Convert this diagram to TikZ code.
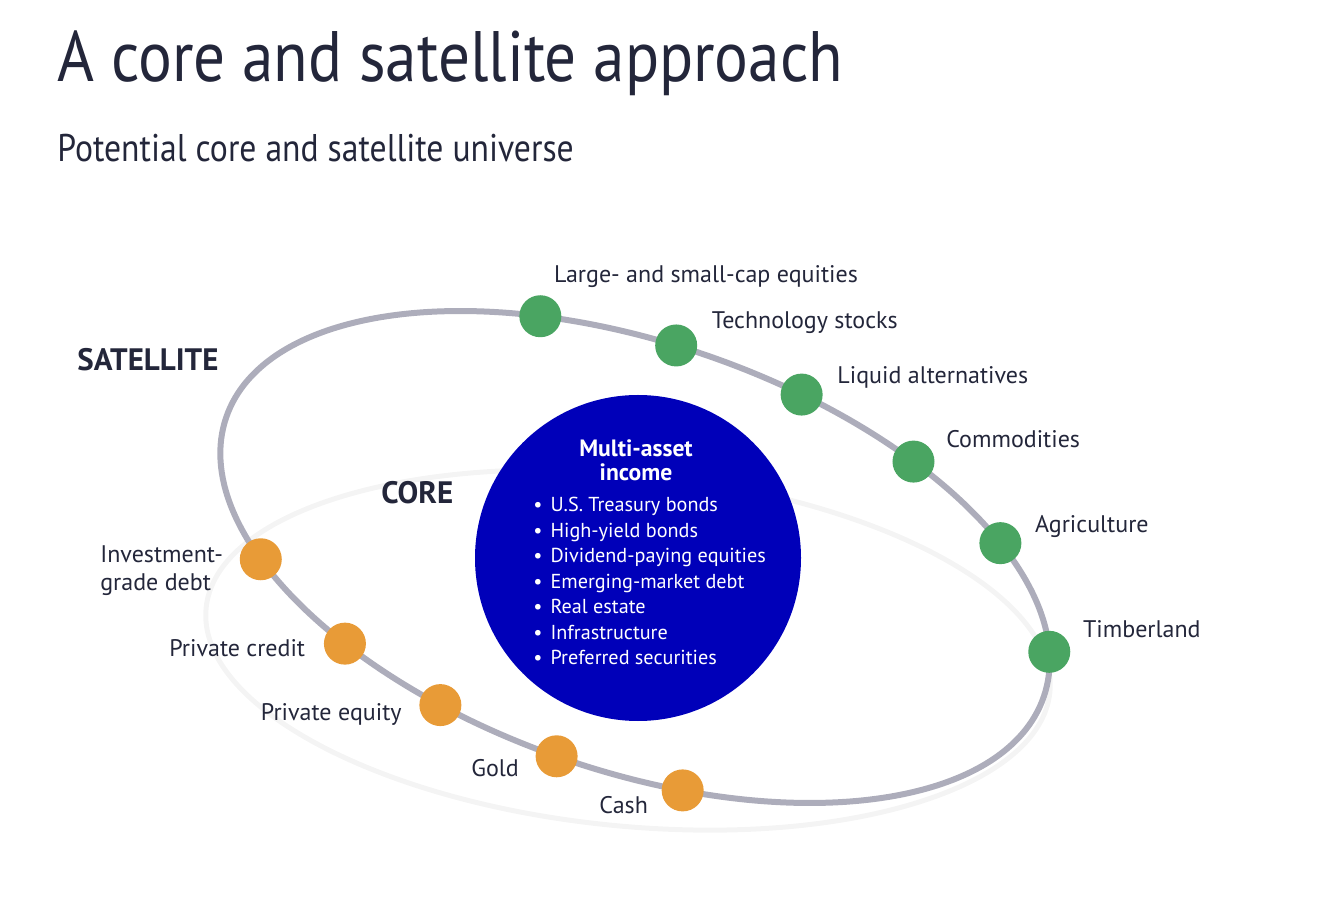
\documentclass[tikz,border=0pt]{standalone}
\usepackage{fontspec}
\setmainfont{PT Sans}
\usepackage{tikz}
\usetikzlibrary{positioning, calc}
\definecolor{navy}{RGB}{35,38,58}
\definecolor{orbitgray}{RGB}{173,173,187}
\definecolor{coregray}{RGB}{244,244,244}
\definecolor{hubblue}{RGB}{0,0,185}
\definecolor{satgreen}{RGB}{74,165,98}
\definecolor{coreorange}{RGB}{232,155,55}
\tikzset{
  planet/.style={circle, inner sep=0pt, minimum size=21pt},
  satplanet/.style={planet, fill=satgreen},
  coreplanet/.style={planet, fill=coreorange},
  lblbase/.style={inner sep=0pt, text=navy, font=\fontsize{12}{14}\selectfont},
  lbl/.style={lblbase, text height=8.5pt, text depth=2pt},
  tag/.style={inner sep=0pt, text=navy, font=\fontsize{15.5}{18}\selectfont\bfseries},
  hub/.style={circle, fill=hubblue, minimum size=163pt, inner sep=0pt},
  orbit/.style={draw=orbitgray, line width=3pt},
  coreorbit/.style={draw=coregray, line width=2.5pt},
  satframe/.style={shift={(635,-557)}, rotate=-18.85},
}

\begin{document}
\begin{tikzpicture}[x=0.5pt, y=0.5pt]
  \useasboundingbox (0,0) rectangle (1328,-924);

  % Headings
  \node[anchor=base west, inner sep=0pt, text=navy, font=\fontsize{35.7}{40}\selectfont]
    (title) at (57,-82) {\scalebox{0.885}[1]{A core and satellite approach}};
  \node[anchor=base west, inner sep=0pt, text=navy, font=\fontsize{19.3}{22}\selectfont]
    (subtitle) at (57,-162) {\scalebox{0.872}[1]{Potential core and satellite universe}};

  % Orbits
  \draw[coreorbit, shift={(628,-650)}, rotate=-5.7] (0,0) ellipse [x radius=424, y radius=176];
  \begin{scope}[satframe]
    \draw[orbit] (0,0) ellipse [x radius=432, y radius=214];
  \end{scope}

  % Core circle
  \node[hub] (hub) at (638,-558) {};
  \node[inner sep=0pt, text=white, align=center, font=\fontsize{11.8}{12}\selectfont\bfseries]
    (hubtitle) at (636,-460) {Multi-asset\\income};
  \node[inner sep=0pt, text=white, align=left, anchor=west, font=\fontsize{10.1}{12.75}\selectfont]
    (hublist) at (533,-581) {\textbullet\hspace{4pt}U.S. Treasury bonds\\
      \textbullet\hspace{4pt}High-yield bonds\\
      \textbullet\hspace{4pt}Dividend-paying equities\\
      \textbullet\hspace{4pt}Emerging-market debt\\
      \textbullet\hspace{4pt}Real estate\\
      \textbullet\hspace{4pt}Infrastructure\\
      \textbullet\hspace{4pt}Preferred securities};

  % Satellite dots
  \begin{scope}[satframe]
    \node[satplanet] (g1) at (112.8:432 and 214) {};
    \node[satplanet] (g2) at (93.9:432 and 214) {};
    \node[satplanet] (g3) at (75.9:432 and 214) {};
    \node[satplanet] (g4) at (57.4:432 and 214) {};
    \node[satplanet] (g5) at (37.8:432 and 214) {};
    \node[satplanet] (g6) at (11.9:432 and 214) {};
    \node[coreplanet] (o1) at (215.1:432 and 214) {};
    \node[coreplanet] (o2) at (235.2:432 and 214) {};
    \node[coreplanet] (o3) at (251.6:432 and 214) {};
    \node[coreplanet] (o4) at (268.7:432 and 214) {};
    \node[coreplanet] (o5) at (286.2:432 and 214) {};
  \end{scope}

  % Labels
  \node[lbl, right=-4pt of g1, yshift=20pt] (lg1) {Large- and small-cap equities};
  \node[lbl, right=7pt of g2, yshift=11.5pt] (lg2) {Technology stocks};
  \node[lbl, right=7pt of g3, yshift=9pt] (lg3) {Liquid alternatives};
  \node[lbl, right=5.5pt of g4, yshift=10.5pt] (lg4) {Commodities};
  \node[lbl, right=6.5pt of g5, yshift=8.5pt] (lg5) {Agriculture};
  \node[lbl, right=6pt of g6, yshift=10.5pt] (lg6) {Timberland};
  \node[lblbase, align=left, left=8pt of o1, yshift=-5.5pt] (lo1) {Investment-\\grade debt};
  \node[lbl, left=9pt of o2, yshift=-3pt] (lo2) {Private credit};
  \node[lbl, left=8.5pt of o3, yshift=-4.5pt] (lo3) {Private equity};
  \node[lbl, left=8pt of o4, yshift=-7pt] (lo4) {Gold};
  \node[lbl, left=6.5pt of o5, yshift=-8.5pt] (lo5) {Cash};

  % Ring tags
  \node[tag, anchor=west] (sattag) at (77,-360) {SATELLITE};
  \node[tag, anchor=west] (coretag) at (381,-493) {CORE};
\end{tikzpicture}
\end{document}
